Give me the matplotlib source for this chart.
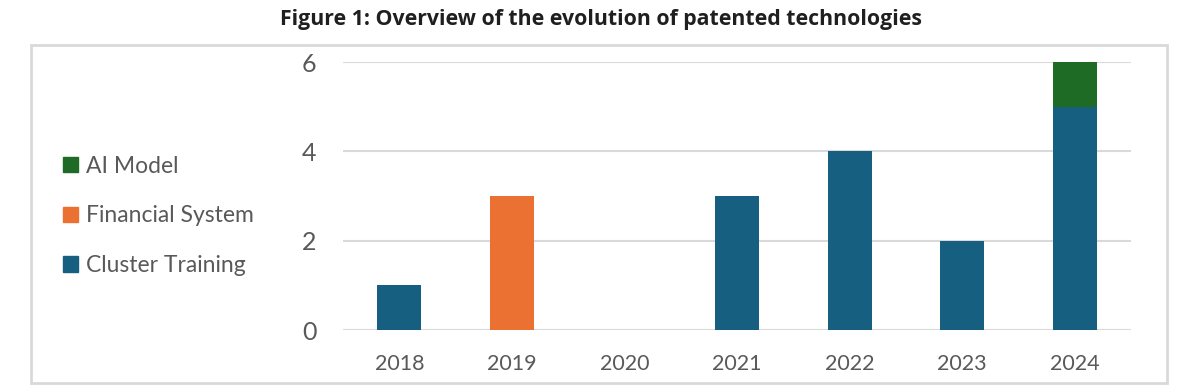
import numpy as np
import matplotlib.pyplot as plt
from matplotlib.patches import Rectangle, Patch

years = ['2018', '2019', '2020', '2021', '2022', '2023', '2024']
cluster_training = [1, 0, 0, 3, 4, 2, 5]
financial_system = [0, 3, 0, 0, 0, 0, 0]
ai_model = [0, 0, 0, 0, 0, 0, 1]
y_ticks = [0, 2, 4, 6]

c_blue = '#175f80'
c_orange = '#eb7132'
c_green = '#1e6b26'
txt = '#595959'

plt.rcParams['font.family'] = ['Lato', 'DejaVu Sans']

W, H = 1200, 389
fig = plt.figure(figsize=(12, 3.89), dpi=100)

# outer frame
fig.patches.append(Rectangle((31 / W, 1 - 383 / H), (1167 - 31) / W, (383 - 45) / H,
                             transform=fig.transFigure, fill=False,
                             edgecolor='#d9d9d9', linewidth=2))

fig.text(601 / W, 1 - 20 / H, 'Figure 1: Overview of the evolution of patented technologies',
         ha='center', va='center', fontsize=15.3, fontweight='bold', color='#1f1f1f',
         family=['Open Sans', 'DejaVu Sans'])

ax = fig.add_axes([343 / W, 1 - 330 / H, (1131 - 343) / W, (330 - 62) / H])
x = np.arange(len(years))
cl = np.array(cluster_training)
fs = np.array(financial_system)
ai = np.array(ai_model)

ax.bar(x, cl, width=0.39, color=c_blue, zorder=3)
ax.bar(x, fs, width=0.39, bottom=cl, color=c_orange, zorder=3)
ax.bar(x, ai, width=0.39, bottom=cl + fs, color=c_green, zorder=3)

ax.set_xlim(-0.5, len(years) - 0.5)
ax.set_ylim(0, 6)
ax.set_yticks(y_ticks)
ax.set_xticks(x)
ax.set_xticklabels(years)
ax.yaxis.grid(True, color='#d9d9d9', linewidth=1.5, zorder=0)
for s in ax.spines.values():
    s.set_visible(False)
ax.tick_params(axis='y', length=0, pad=19, labelsize=18, labelcolor=txt)
ax.tick_params(axis='x', length=0, pad=17, labelsize=15.5, labelcolor=txt)

handles = [Patch(color=c_green, label='AI Model'),
           Patch(color=c_orange, label='Financial System'),
           Patch(color=c_blue, label='Cluster Training')]
fig.legend(handles=handles, loc='upper left', bbox_to_anchor=(42 / W, 1 - 135 / H),
           frameon=False, fontsize=16.5, labelcolor=txt, handlelength=0.65,
           handleheight=0.65, handletextpad=0.35, labelspacing=1.25)

fig.savefig('out.png', dpi=100)
